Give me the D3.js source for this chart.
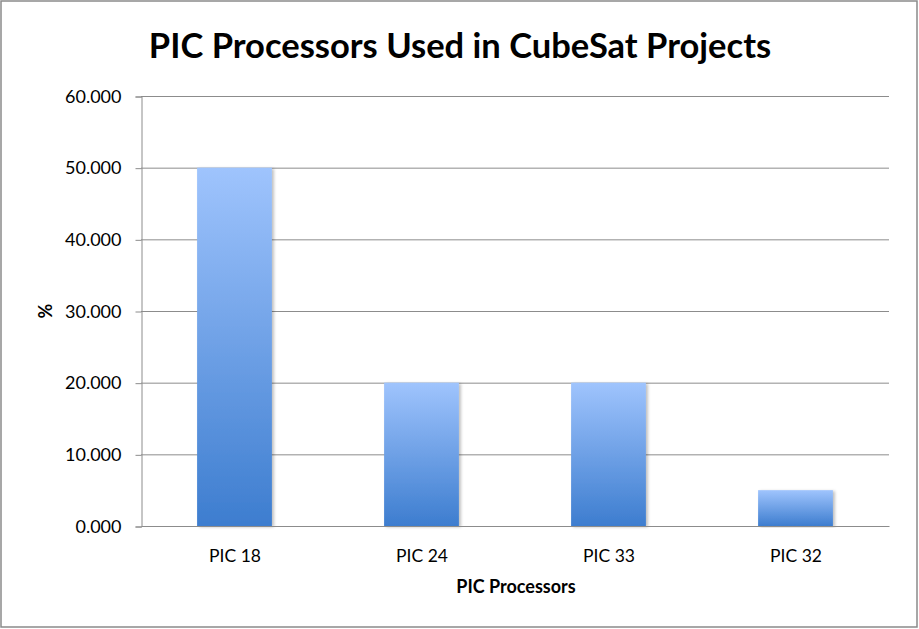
<!DOCTYPE html>
<html><head><meta charset="utf-8">
<script src="https://cdn.jsdelivr.net/npm/d3@7"></script>
<style>body{margin:0;background:#fff}svg{display:block}text{font-family:Lato,"Open Sans",sans-serif}</style>
</head><body><svg id="c" width="919" height="629"></svg>
<script>
const categories = ["PIC 18", "PIC 24", "PIC 33", "PIC 32"];
const values = [50, 20, 20, 5];
const yTicks = [0, 10, 20, 30, 40, 50, 60];
const title = "PIC Processors Used in CubeSat Projects";
const xTitle = "PIC Processors";
const yTitle = "%";

const svg = d3.select("#c");
const m = {l:141, r:889, t:96, b:526};
svg.append("rect").attr("x",1).attr("y",1).attr("width",916).attr("height",626)
  .attr("fill","#fff").attr("stroke","#8a8a8a").attr("stroke-width",1.5);

const defs = svg.append("defs");
const g = defs.append("linearGradient").attr("id","bg").attr("x1",0).attr("y1",0).attr("x2",0).attr("y2",1);
g.append("stop").attr("offset","0%").attr("stop-color","#9fc4fd");
g.append("stop").attr("offset","100%").attr("stop-color","#3d7dcf");
const f = defs.append("filter").attr("id","sh").attr("x","-20%").attr("y","-5%").attr("width","140%").attr("height","110%");
f.append("feDropShadow").attr("dx",2).attr("dy",1).attr("stdDeviation",1.5).attr("flood-color","#000").attr("flood-opacity",0.25);

const x = d3.scaleBand().domain(categories).range([m.l, m.r]).paddingInner(0.6).paddingOuter(0.3);
const y = d3.scaleLinear().domain([0,60]).range([m.b, m.t]);

// gridlines
svg.append("g").selectAll("line").data(yTicks.filter(d=>d>0)).join("line")
  .attr("x1",m.l).attr("x2",m.r).attr("y1",d=>y(d)+0.5).attr("y2",d=>y(d)+0.5)
  .attr("stroke","#8c8c8c").attr("stroke-width",1);

// y axis
const ya = svg.append("g").attr("transform",`translate(${m.l+0.5},0.5)`)
  .call(d3.axisLeft(y).tickValues(yTicks).tickFormat(d3.format(".3f")).tickSize(6).tickPadding(14));
ya.select(".domain").attr("stroke","#8c8c8c");
ya.selectAll(".tick line").attr("stroke","#8c8c8c");
ya.selectAll("text").attr("font-size",18).attr("fill","#000").attr("font-family","Lato");

// bars
svg.append("g").selectAll("rect").data(categories).join("rect")
  .attr("x",d=>x(d)).attr("width",x.bandwidth())
  .attr("y",(d,i)=>y(values[i])).attr("height",(d,i)=>y(0)-y(values[i]))
  .attr("fill","url(#bg)").attr("filter","url(#sh)");

// x axis
const xa = svg.append("g").attr("transform",`translate(0.5,${m.b+0.5})`)
  .call(d3.axisBottom(x).tickSize(0).tickPadding(23));
xa.select(".domain").attr("stroke","#8c8c8c").attr("d",`M${m.l},0H${m.r}`);
xa.selectAll("text").attr("font-size",17.5).attr("fill","#000").attr("font-family","Lato");

svg.append("text").attr("x",460).attr("y",58).attr("text-anchor","middle")
  .attr("font-size",34.5).attr("font-weight","bold").text(title);
svg.append("text").attr("x",(m.l+m.r)/2+1).attr("y",593).attr("text-anchor","middle")
  .attr("font-size",18).attr("font-weight","bold").text(xTitle);
svg.append("text").attr("transform",`translate(52,${(m.t+m.b)/2}) rotate(-90)`).attr("text-anchor","middle")
  .attr("font-size",18).attr("font-weight","bold").text(yTitle);
</script></body></html>
